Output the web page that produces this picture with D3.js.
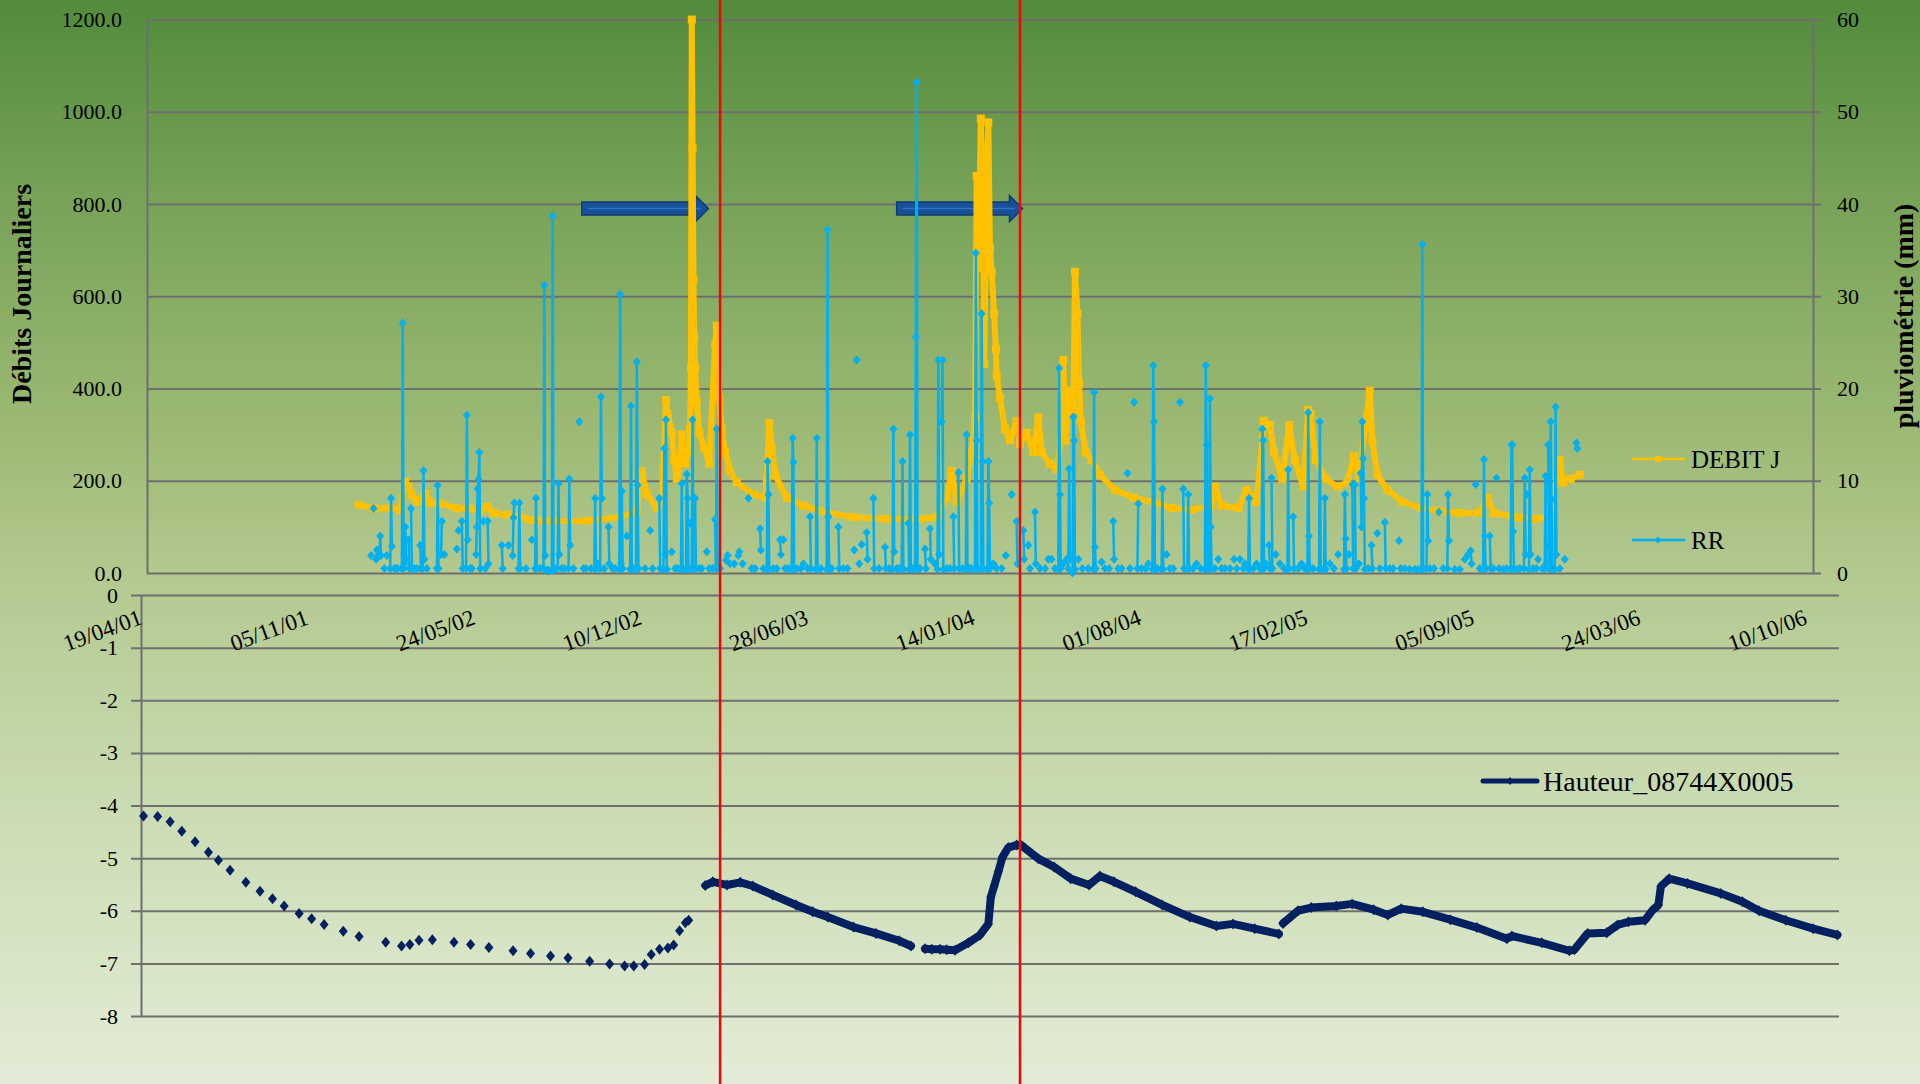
<!DOCTYPE html>
<html>
<head>
<meta charset="utf-8">
<script src="https://cdn.jsdelivr.net/npm/d3@7"></script>
<style>
  html, body { margin: 0; padding: 0; }
  body { width: 1920px; height: 1084px; overflow: hidden; }
  text { font-family: 'Liberation Serif', 'DejaVu Serif', serif; fill: #000; }
</style>
</head>
<body>
<svg id="chart" width="1920" height="1084"></svg>
<script>
// jours comptés depuis le 19/04/01
const dateDebut = new Date(2001, 3, 19);

// DEBIT J (axe gauche)
const debitJours = [
  254, 272, 292, 304, 310, 314, 318, 324, 334, 340,
  352, 372, 388, 400, 408, 416, 432, 448, 460, 472,
  487, 528, 568, 588, 594, 600, 612, 618, 623, 625,
  630, 633, 636, 640, 642, 646, 650, 652, 653, 654,
  655, 656, 657, 658, 660, 663, 669, 675, 682, 684,
  687, 690, 694, 700, 708, 728, 742, 744, 747, 750,
  754, 768, 788, 808, 848, 888, 928, 948, 960, 966,
  972, 984, 990, 994, 996, 998, 1001, 1004, 1005, 1008,
  1010, 1012, 1014, 1017, 1019, 1020, 1024, 1030, 1036, 1044,
  1048, 1056, 1064, 1070, 1074, 1084, 1092, 1097, 1100, 1103,
  1108, 1112, 1114, 1117, 1119, 1121, 1127, 1134, 1144, 1162,
  1185, 1208, 1230, 1254, 1277, 1282, 1290, 1310, 1320, 1332,
  1341, 1348, 1353, 1363, 1371, 1378, 1388, 1394, 1397, 1403,
  1415, 1429, 1441, 1449, 1455, 1462, 1468, 1471, 1477, 1489,
  1507, 1529, 1553, 1576, 1599, 1609, 1617, 1645, 1667, 1682,
  1689, 1696, 1700, 1709, 1720
];
const debitValeurs = [
  148, 140, 141, 137, 198, 187, 169, 155, 173, 152,
  151, 140, 140, 133, 144, 130, 126, 122, 115, 113,
  113, 113, 121, 134, 221, 171, 141, 154, 375, 345,
  304, 245, 204, 245, 300, 237, 262, 312, 445, 1200,
  920, 636, 512, 445, 371, 304, 271, 237, 495, 536,
  380, 312, 262, 221, 196, 171, 163, 204, 325, 271,
  213, 163, 146, 134, 121, 117, 117, 121, 163, 221,
  154, 204, 262, 337, 861, 661, 985, 811, 453, 827,
  977, 703, 653, 562, 486, 429, 380, 312, 288, 329,
  280, 304, 262, 337, 262, 237, 225, 287, 462, 287,
  395, 354, 653, 562, 412, 329, 262, 245, 213, 180,
  163, 154, 141, 137, 146, 187, 146, 141, 180, 154,
  330, 321, 262, 204, 321, 245, 187, 354, 345, 245,
  204, 187, 196, 254, 204, 312, 395, 287, 213, 180,
  154, 141, 134, 130, 130, 163, 130, 121, 117, 121,
  163, 245, 196, 204, 213
];

// RR pluviométrie en mm (axe droit), jours sans pluie absents
const rrJours = [
  269, 272, 275, 276, 279, 280, 281, 285, 288, 292,
  293, 294, 297, 299, 301, 306, 307, 308, 309, 310,
  311, 314, 315, 317, 318, 321, 324, 328, 329, 331,
  332, 333, 336, 348, 349, 350, 353, 354, 357, 372,
  374, 378, 379, 383, 384, 385, 388, 390, 395, 396,
  397, 398, 399, 400, 404, 406, 409, 410, 426, 427,
  434, 439, 440, 441, 446, 447, 448, 455, 462, 466,
  467, 468, 472, 476, 477, 478, 480, 481, 482, 486,
  487, 488, 490, 493, 494, 495, 498, 501, 506, 507,
  508, 512, 519, 524, 527, 533, 537, 538, 539, 541,
  544, 545, 546, 549, 554, 555, 559, 562, 567, 568,
  569, 570, 571, 576, 580, 581, 582, 584, 587, 588,
  589, 590, 598, 604, 607, 615, 616, 620, 621, 622,
  623, 624, 630, 634, 637, 641, 642, 643, 647, 648,
  649, 650, 652, 654, 655, 656, 658, 659, 663, 666,
  672, 675, 679, 682, 683, 684, 685, 688, 695, 697,
  700, 705, 710, 711, 715, 722, 726, 730, 736, 737,
  740, 744, 745, 746, 747, 752, 756, 760, 761, 764,
  766, 770, 774, 775, 776, 777, 780, 785, 788, 793,
  796, 797, 803, 804, 805, 809, 816, 817, 818, 819,
  822, 830, 831, 836, 841, 849, 852, 855, 858, 864,
  865, 872, 873, 879, 886, 887, 891, 895, 896, 897,
  900, 903, 906, 907, 908, 914, 915, 916, 917, 920,
  922, 923, 924, 925, 928, 934, 935, 940, 941, 946,
  949, 950, 951, 954, 955, 956, 960, 964, 968, 969,
  974, 975, 979, 983, 984, 985, 988, 990, 994, 995,
  996, 997, 1001, 1002, 1003, 1004, 1009, 1010, 1011, 1012,
  1016, 1020, 1026, 1031, 1038, 1044, 1045, 1052, 1053, 1058,
  1060, 1066, 1067, 1072, 1078, 1082, 1086, 1090, 1094, 1095,
  1096, 1097, 1100, 1104, 1106, 1107, 1108, 1111, 1112, 1113,
  1114, 1118, 1123, 1130, 1136, 1137, 1138, 1139, 1146, 1150,
  1155, 1160, 1161, 1166, 1170, 1177, 1180, 1185, 1189, 1190,
  1194, 1199, 1202, 1207, 1208, 1209, 1210, 1213, 1218, 1219,
  1220, 1224, 1228, 1232, 1240, 1244, 1245, 1249, 1250, 1251,
  1256, 1260, 1265, 1270, 1271, 1272, 1273, 1275, 1276, 1277,
  1278, 1282, 1286, 1290, 1294, 1300, 1305, 1308, 1312, 1316,
  1318, 1322, 1323, 1324, 1328, 1332, 1336, 1338, 1339, 1340,
  1341, 1343, 1347, 1348, 1350, 1351, 1355, 1360, 1365, 1369,
  1370, 1371, 1376, 1377, 1382, 1386, 1390, 1393, 1394, 1395,
  1396, 1400, 1407, 1408, 1409, 1413, 1414, 1415, 1420, 1425,
  1430, 1437, 1438, 1439, 1440, 1443, 1447, 1448, 1450, 1451,
  1455, 1457, 1458, 1459, 1460, 1461, 1462, 1466, 1470, 1471,
  1477, 1480, 1486, 1487, 1492, 1496, 1503, 1505, 1510, 1516,
  1522, 1526, 1530, 1531, 1532, 1536, 1537, 1538, 1540, 1545,
  1551, 1556, 1561, 1562, 1563, 1570, 1576, 1582, 1586, 1589,
  1590, 1595, 1600, 1604, 1605, 1606, 1607, 1612, 1613, 1616,
  1620, 1623, 1628, 1632, 1637, 1638, 1639, 1640, 1641, 1645,
  1648, 1653, 1654, 1655, 1657, 1659, 1660, 1661, 1664, 1668,
  1670, 1675, 1678, 1679, 1680, 1682, 1683, 1684, 1685, 1686,
  1687, 1690, 1691, 1692, 1696, 1702, 1716, 1717
];
const rrMm = [
  1.9, 7.0, 1.5, 2.5, 1.9, 4.0, 1.9, 0.5, 1.9, 0.5,
  8.1, 2.9, 0.5, 0.5, 0.5, 0.5, 27.1, 0.5, 1.0, 5.0,
  1.5, 3.6, 0.5, 7.0, 0.5, 0.5, 0.5, 3.0, 0.5, 0.5,
  11.1, 1.5, 0.5, 0.5, 9.5, 0.5, 2.0, 5.6, 2.0, 2.6,
  4.6, 5.6, 0.5, 0.5, 17.1, 3.6, 0.5, 0.5, 2.0, 5.0,
  9.1, 10.1, 13.1, 0.5, 5.6, 0.5, 5.6, 1.0, 3.0, 0.5,
  3.0, 1.9, 6.0, 7.6, 0.5, 7.6, 0.5, 0.5, 3.6, 0.5,
  8.1, 0.5, 0.5, 0.5, 31.2, 1.9, 0.3, 0.2, 0.3, 0.3,
  38.7, 0.3, 0.5, 0.5, 9.7, 2.0, 0.5, 0.5, 0.5, 10.2,
  3.0, 0.5, 16.4, 0.5, 0.5, 0.5, 0.5, 8.1, 0.5, 1.0,
  0.5, 19.1, 8.1, 0.5, 5.0, 1.0, 0.5, 0.5, 0.4, 30.2,
  1.0, 8.9, 0.5, 4.0, 0.4, 18.1, 0.5, 0.5, 0.4, 22.9,
  9.5, 0.5, 0.5, 4.6, 0.5, 8.1, 0.5, 0.4, 13.5, 2.0,
  16.6, 0.4, 2.3, 0.5, 0.5, 0.4, 9.7, 0.5, 0.4, 10.7,
  8.1, 0.5, 5.4, 0.4, 16.6, 0.5, 8.1, 0.5, 0.5, 0.5,
  2.3, 0.5, 0.5, 5.8, 0.5, 15.6, 0.5, 0.5, 1.4, 1.9,
  1.0, 1.0, 1.9, 2.3, 1.0, 8.1, 0.5, 0.5, 4.8, 2.5,
  0.5, 0.4, 12.1, 8.5, 0.4, 0.5, 0.5, 3.6, 2.0, 3.6,
  0.5, 0.5, 0.4, 14.6, 12.0, 0.4, 0.5, 0.5, 1.0, 0.5,
  6.1, 0.5, 0.4, 14.6, 0.4, 0.5, 0.4, 37.2, 6.1, 0.4,
  0.5, 5.0, 0.5, 0.5, 0.5, 2.5, 23.1, 1.0, 3.1, 4.4,
  1.5, 8.1, 0.5, 0.5, 2.8, 0.5, 0.5, 0.4, 15.6, 2.3,
  0.5, 0.5, 0.4, 12.1, 0.4, 5.4, 0.4, 15.0, 0.5, 0.5,
  0.4, 25.6, 53.2, 0.4, 0.5, 2.6, 0.5, 4.8, 1.5, 1.0,
  0.4, 23.1, 2.0, 16.4, 23.1, 0.4, 0.5, 0.5, 6.1, 0.5,
  10.9, 0.5, 0.5, 0.4, 15.0, 0.5, 0.5, 0.5, 0.4, 34.7,
  14.4, 0.5, 0.4, 28.1, 12.1, 0.5, 0.4, 12.1, 7.6, 0.5,
  1.0, 0.5, 0.5, 1.9, 8.5, 5.6, 1.0, 4.6, 1.5, 3.0,
  0.5, 6.6, 1.0, 0.5, 0.5, 1.5, 1.5, 0.5, 0.4, 22.2,
  8.5, 0.5, 1.0, 1.5, 0.5, 11.3, 1.5, 0.0, 16.9, 14.4,
  0.4, 1.5, 0.5, 0.5, 0.4, 19.6, 2.8, 0.5, 1.2, 0.5,
  0.5, 5.6, 1.5, 0.5, 0.5, 10.8, 0.5, 18.5, 0.5, 7.5,
  0.5, 0.5, 1.0, 0.4, 22.5, 16.4, 0.4, 0.5, 0.4, 9.1,
  0.4, 2.0, 0.5, 0.5, 18.5, 9.1, 0.5, 0.4, 8.5, 0.5,
  0.5, 1.0, 0.5, 0.4, 22.5, 13.9, 0.4, 0.4, 18.9, 5.0,
  0.5, 0.5, 1.5, 0.5, 0.5, 0.5, 1.5, 0.5, 1.5, 0.5,
  1.0, 0.4, 8.1, 0.5, 0.5, 1.0, 0.5, 0.4, 15.6, 14.4,
  0.5, 1.0, 3.0, 0.5, 10.3, 0.5, 2.0, 1.0, 0.5, 0.4,
  11.2, 0.5, 6.1, 0.5, 0.5, 1.0, 0.5, 0.4, 17.4, 4.0,
  0.5, 0.5, 0.4, 16.4, 0.5, 0.4, 8.1, 0.4, 1.0, 0.5,
  2.0, 0.4, 8.5, 3.7, 0.5, 2.0, 9.6, 0.5, 9.6, 0.5,
  1.0, 10.8, 5.0, 16.4, 12.4, 8.1, 0.4, 0.5, 3.0, 0.5,
  4.3, 0.5, 5.5, 0.5, 0.5, 0.5, 3.5, 0.5, 0.5, 0.4,
  0.4, 0.4, 0.4, 35.6, 0.4, 0.5, 8.5, 3.5, 0.5, 0.5,
  6.6, 0.5, 0.5, 8.5, 3.5, 0.4, 0.4, 1.5, 2.0, 2.4,
  1.0, 9.6, 0.5, 0.4, 12.3, 4.0, 0.5, 4.0, 0.5, 0.5,
  10.3, 0.5, 0.4, 0.5, 0.4, 13.9, 13.9, 4.5, 0.5, 0.4,
  0.5, 0.5, 10.3, 2.0, 8.5, 0.4, 11.2, 2.0, 0.5, 0.5,
  1.5, 0.5, 0.5, 10.5, 1.0, 13.9, 3.0, 0.4, 16.4, 8.0,
  0.5, 0.4, 18.0, 2.0, 0.5, 1.5, 14.1, 13.5
];

// Hauteur_08744X0005 : relevés ponctuels du début
const releveJours = [
  3, 20, 35, 49, 65, 81, 93, 107, 126, 143,
  158, 172, 190, 205, 220, 243, 262, 294, 313, 323,
  334, 350, 376, 396, 418, 447, 468, 492, 513, 539,
  563, 581, 592, 605, 613, 623, 633, 640, 647, 654, 658
];
const releveValeurs = [
  -4.20, -4.21, -4.31, -4.49, -4.69, -4.89, -5.04, -5.23, -5.46, -5.63,
  -5.77, -5.91, -6.05, -6.15, -6.26, -6.39, -6.49, -6.60, -6.67, -6.64,
  -6.56, -6.55, -6.60, -6.64, -6.70, -6.76, -6.81, -6.86, -6.90, -6.96,
  -7.01, -7.05, -7.05, -7.02, -6.83, -6.73, -6.71, -6.65, -6.38, -6.23, -6.18
];
// puis enregistrement continu (null = trou dans la série)
const hauteurJours = [
  678, 687, 704, 720, 735, 759, 787, 807, 825, 856, 883, 911, 925,
  933,
  942, 950, 960, 968, 978, 994, 1008, 1018, 1021, 1025, 1030, 1035, 1042, 1052,
  1058, 1078, 1097, 1117, 1139, 1152, 1169, 1195, 1227, 1260, 1292, 1312, 1338, 1367,
  1370,
  1372, 1390, 1406, 1436, 1455, 1481, 1498, 1514, 1540, 1573, 1605, 1641, 1647, 1683,
  1716, 1722, 1738, 1761, 1774, 1787, 1807, 1816, 1823, 1826, 1836, 1858, 1898, 1924,
  1944, 1976, 2009, 2038
];
const hauteurValeurs = [
  -5.52, -5.45, -5.51, -5.46, -5.53, -5.70, -5.89, -6.02, -6.12, -6.31, -6.43, -6.57, -6.67,
  null,
  -6.72, -6.73, -6.73, -6.74, -6.75, -6.61, -6.46, -6.25, -5.74, -5.53, -5.26, -4.98, -4.80, -4.75,
  -4.76, -5.01, -5.17, -5.39, -5.51, -5.34, -5.45, -5.64, -5.89, -6.12, -6.29, -6.25, -6.34, -6.44,
  null,
  -6.24, -6.00, -5.94, -5.91, -5.87, -5.98, -6.08, -5.96, -6.02, -6.17, -6.32, -6.53, -6.48, -6.61,
  -6.76, -6.74, -6.43, -6.42, -6.27, -6.21, -6.18, -5.99, -5.89, -5.54, -5.39, -5.48, -5.67, -5.83,
  -6.00, -6.18, -6.34, -6.46
];

const debitTicks = [0, 200, 400, 600, 800, 1000, 1200];
const pluvioTicks = [0, 10, 20, 30, 40, 50, 60];
const hauteurTicks = [0, -1, -2, -3, -4, -5, -6, -7, -8];
const dateTicks = ['19/04/01', '05/11/01', '24/05/02', '10/12/02', '28/06/03', '14/01/04',
  '01/08/04', '17/02/05', '05/09/05', '24/03/06', '10/10/06'];

// annotations : traits rouges et flèches (jours)
const reperesRouges = [688, 1048];
const fleches = [[522, 674], [900, 1051]];
const niveauFleches = 790;

const couleurGrille = '#6f6f6f';
const couleurDebit = '#FFC000';
const couleurRR = '#00B0F0';
const couleurHauteur = '#002060';

const jour = j => d3.timeDay.offset(dateDebut, j);
const parseDate = d3.timeParse('%d/%m/%y');

const svg = d3.select('#chart');

// fond dégradé vert
const grad = svg.append('defs').append('linearGradient')
  .attr('id', 'fond').attr('x1', 0).attr('y1', 0).attr('x2', 0).attr('y2', 1);
[[0, '#528B3B'], [0.18, '#77A257'], [0.4, '#9DBA75'], [0.53, '#B3C98F'], [0.75, '#CBDCB3'], [1, '#E3ECD7']]
  .forEach(s => grad.append('stop').attr('offset', s[0]).attr('stop-color', s[1]));
svg.append('rect').attr('width', 1920).attr('height', 1084).attr('fill', 'url(#fond)');

function styleAxe(g, taille) {
  g.attr('font-family', null).attr('font-size', null);
  g.selectAll('.domain, .tick line').attr('stroke', couleurGrille).attr('stroke-width', 2);
  g.selectAll('text').attr('font-size', taille).attr('fill', '#000');
}

function losange(w, h) {
  return `M0,${-h}L${w},0L0,${h}L${-w},0Z`;
}

// ---------- graphique du haut : débits et pluie ----------
const xHaut = d3.scaleTime().domain([dateDebut, jour(2000)]).range([147, 1813]);
const yDebit = d3.scaleLinear().domain([0, 1200]).range([573, 19.5]);
const yPluie = d3.scaleLinear().domain([0, 60]).range([573, 19.5]);

svg.append('g')
  .attr('transform', 'translate(147,0)')
  .call(d3.axisLeft(yDebit).tickValues(debitTicks).tickFormat(d3.format('.1f'))
    .tickSizeInner(-1674).tickSizeOuter(0).tickPadding(25))
  .call(g => styleAxe(g, 22));

svg.append('g')
  .attr('transform', 'translate(1813,0)')
  .call(d3.axisRight(yPluie).tickValues(pluvioTicks).tickSize(0).tickPadding(24))
  .call(g => styleAxe(g, 22));

svg.append('text')
  .attr('transform', 'translate(21,294) rotate(-90)')
  .attr('text-anchor', 'middle').attr('dy', '0.35em')
  .attr('font-size', 28).attr('font-weight', 'bold')
  .text('Débits Journaliers');

svg.append('text')
  .attr('transform', 'translate(1903,316) rotate(-90)')
  .attr('text-anchor', 'middle').attr('dy', '0.35em')
  .attr('font-size', 28).attr('font-weight', 'bold')
  .text('pluviométrie (mm)');

// flèches bleues
fleches.forEach(([a, b]) => {
  const x0 = xHaut(jour(a)), x1 = xHaut(jour(b)), y = yDebit(niveauFleches);
  svg.append('path')
    .attr('d', `M${x0},${y - 6.5}L${x1 - 13},${y - 6.5}L${x1 - 13},${y - 13}L${x1},${y}` +
      `L${x1 - 13},${y + 13}L${x1 - 13},${y + 6.5}L${x0},${y + 6.5}Z`)
    .attr('fill', '#17519A').attr('stroke', '#0E3B73').attr('stroke-width', 1.5);
  svg.append('line')
    .attr('x1', x0 + 6).attr('x2', x1 - 8).attr('y1', y).attr('y2', y)
    .attr('stroke', '#2F72BF').attr('stroke-width', 1.5);
});

const debit = debitJours.map((j, i) => ({ date: jour(j), v: debitValeurs[i] }));

svg.append('path')
  .datum(debit)
  .attr('fill', 'none')
  .attr('stroke', couleurDebit)
  .attr('stroke-width', 6)
  .attr('stroke-linejoin', 'round')
  .attr('d', d3.line().x(d => xHaut(d.date)).y(d => yDebit(d.v)));

svg.append('g').selectAll('rect')
  .data(debit)
  .join('rect')
  .attr('x', d => xHaut(d.date) - 4)
  .attr('y', d => yDebit(d.v) - 4)
  .attr('width', 8).attr('height', 8)
  .attr('fill', couleurDebit);

// RR : les jours consécutifs sont reliés
const rr = rrJours.map((j, i) => ({ j, date: jour(j), v: rrMm[i] }));
const troncons = [];
rr.forEach((d, i) => {
  if (i === 0 || d.j - rr[i - 1].j > 1) troncons.push([]);
  troncons[troncons.length - 1].push(d);
});

svg.append('g').selectAll('path')
  .data(troncons.filter(t => t.length > 1))
  .join('path')
  .attr('fill', 'none')
  .attr('stroke', couleurRR)
  .attr('stroke-width', 2.5)
  .attr('d', d3.line().x(d => xHaut(d.date)).y(d => yPluie(d.v)));

svg.append('g').selectAll('path')
  .data(rr)
  .join('path')
  .attr('transform', d => `translate(${xHaut(d.date)},${yPluie(d.v)})`)
  .attr('d', losange(4, 4.5))
  .attr('fill', couleurRR);

// légende du haut
const legHaut = [
  { nom: 'DEBIT J', couleur: couleurDebit, y: 459, carre: true },
  { nom: 'RR', couleur: couleurRR, y: 540, carre: false }
];
legHaut.forEach(l => {
  svg.append('line').attr('x1', 1632).attr('x2', 1685).attr('y1', l.y).attr('y2', l.y)
    .attr('stroke', l.couleur).attr('stroke-width', 2.5);
  if (l.carre) {
    svg.append('rect').attr('x', 1655).attr('y', l.y - 3).attr('width', 6).attr('height', 6)
      .attr('fill', l.couleur);
  } else {
    svg.append('path').attr('transform', `translate(1658,${l.y})`).attr('d', losange(3.5, 3.5))
      .attr('fill', l.couleur);
  }
  svg.append('text').attr('x', 1691).attr('y', l.y).attr('dy', '0.35em')
    .attr('font-size', 25).text(l.nom);
});

// ---------- graphique du bas : hauteur de nappe ----------
const xBas = d3.scaleTime().domain([dateDebut, jour(2040)]).range([141, 1839]);
const yHauteur = d3.scaleLinear().domain([-8, 0]).range([1016, 595]);

svg.append('g')
  .attr('transform', 'translate(141,0)')
  .call(d3.axisLeft(yHauteur).tickValues(hauteurTicks).tickFormat(d => String(d))
    .tickSizeInner(-1698).tickSizeOuter(0).tickPadding(23))
  .call(g => styleAxe(g, 22))
  .call(g => g.selectAll('.tick line').attr('x1', -10));

svg.append('g')
  .attr('transform', 'translate(0,595)')
  .call(d3.axisBottom(xBas).tickValues(dateTicks.map(parseDate))
    .tickFormat(d3.timeFormat('%d/%m/%y')).tickSize(0).tickPadding(0))
  .call(g => g.select('.domain').remove())
  .call(g => styleAxe(g, 23))
  .call(g => g.selectAll('text')
    .attr('y', 0).attr('dy', '0.35em').attr('text-anchor', 'middle')
    .attr('transform', 'translate(-39,35) rotate(-20)'));

const releves = releveJours.map((j, i) => ({ date: jour(j), v: releveValeurs[i] }));
const hauteur = hauteurJours.map((j, i) => ({ date: jour(j), v: hauteurValeurs[i] }));

svg.append('path')
  .datum(hauteur)
  .attr('fill', 'none')
  .attr('stroke', couleurHauteur)
  .attr('stroke-width', 8)
  .attr('stroke-linejoin', 'round')
  .attr('stroke-linecap', 'round')
  .attr('d', d3.line().defined(d => d.v !== null).x(d => xBas(d.date)).y(d => yHauteur(d.v)));

svg.append('g').selectAll('path')
  .data(releves.concat(hauteur.filter(d => d.v !== null)))
  .join('path')
  .attr('transform', d => `translate(${xBas(d.date)},${yHauteur(d.v)})`)
  .attr('d', losange(4.5, 5.5))
  .attr('fill', couleurHauteur);

// légende du bas
svg.append('line').attr('x1', 1483).attr('x2', 1537).attr('y1', 781).attr('y2', 781)
  .attr('stroke', couleurHauteur).attr('stroke-width', 5).attr('stroke-linecap', 'round');
svg.append('path').attr('transform', 'translate(1510,781)').attr('d', losange(3.5, 4))
  .attr('fill', couleurHauteur);
svg.append('text').attr('x', 1543).attr('y', 781).attr('dy', '0.35em')
  .attr('font-size', 28).text('Hauteur_08744X0005');

// traits rouges verticaux
svg.append('g').selectAll('line')
  .data(reperesRouges)
  .join('line')
  .attr('x1', d => xHaut(jour(d))).attr('x2', d => xHaut(jour(d)))
  .attr('y1', 0).attr('y2', 1084)
  .attr('stroke', '#FF0000').attr('stroke-width', 2.5);
</script>
</body>
</html>
